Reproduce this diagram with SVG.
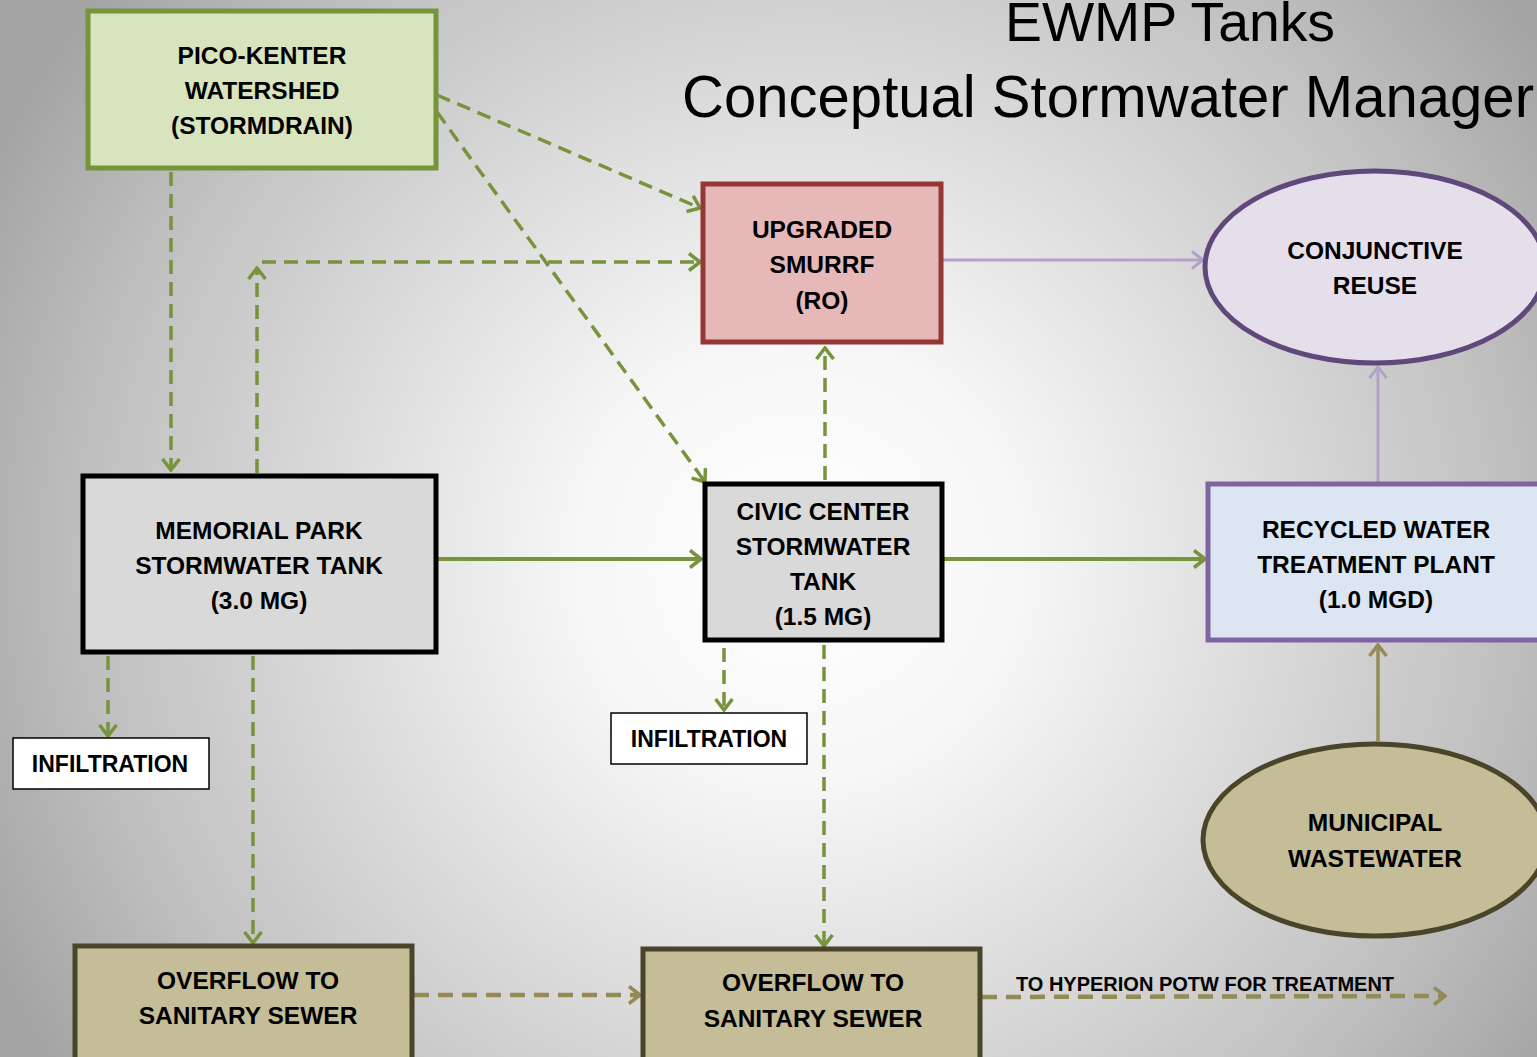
<svg xmlns="http://www.w3.org/2000/svg" width="1537" height="1057" viewBox="0 0 1537 1057">
<defs>
<radialGradient id="bg" gradientUnits="userSpaceOnUse" cx="800" cy="560" r="900">
<stop offset="0" stop-color="#FFFFFF"/>
<stop offset="0.25" stop-color="#F6F6F6"/>
<stop offset="0.75" stop-color="#C4C4C4"/>
<stop offset="1" stop-color="#A4A4A4"/>
</radialGradient>
<marker id="ag" viewBox="0 0 14 20" refX="12" refY="10" markerWidth="14" markerHeight="20" markerUnits="userSpaceOnUse" orient="auto"><path d="M1,1.5 L12,10 L1,18.5" fill="none" stroke="#77933C" stroke-width="3.5"/></marker>
<marker id="al" viewBox="0 0 14 20" refX="12" refY="10" markerWidth="14" markerHeight="20" markerUnits="userSpaceOnUse" orient="auto"><path d="M1,1.5 L12,10 L1,18.5" fill="none" stroke="#B3A2C7" stroke-width="3"/></marker>
<marker id="ao" viewBox="0 0 14 20" refX="12" refY="10" markerWidth="14" markerHeight="20" markerUnits="userSpaceOnUse" orient="auto"><path d="M1,1.5 L12,10 L1,18.5" fill="none" stroke="#948A54" stroke-width="3.5"/></marker>
</defs>
<style>
text{font-family:"Liberation Sans",Arial,sans-serif;font-weight:bold;font-size:24.5px;fill:#000;text-anchor:middle;dominant-baseline:central}
.title{font-family:"Liberation Sans",Arial,sans-serif;font-weight:normal;text-anchor:start;dominant-baseline:alphabetic}
.gd{fill:none;stroke:#77933C;stroke-width:3.5;stroke-dasharray:14 8}
.gs{fill:none;stroke:#77933C;stroke-width:4}
.ls{fill:none;stroke:#B3A2C7;stroke-width:3}
.os{fill:none;stroke:#948A54;stroke-width:3.5}
.od{fill:none;stroke:#948A54;stroke-width:4.5;stroke-dasharray:15 9}
</style>
<rect width="1537" height="1057" fill="url(#bg)"/>
<text class="title" x="1005" y="41" style="font-size:56px" textLength="330" lengthAdjust="spacingAndGlyphs">EWMP Tanks</text>
<text class="title" x="682" y="117" style="font-size:60px" textLength="852" lengthAdjust="spacingAndGlyphs">Conceptual Stormwater Manager</text>

<g id="connectors">
<path class="gd" d="M171,172 V470" marker-end="url(#ag)"/>
<path class="gd" d="M437,95 L700,208" marker-end="url(#ag)"/>
<path class="gd" d="M437,112 L705,482" marker-end="url(#ag)"/>
<path class="gd" d="M257,473 V268" marker-end="url(#ag)"/>
<path class="gd" d="M262,262 H700" marker-end="url(#ag)"/>
<path class="gd" d="M825,480 V348" marker-end="url(#ag)"/>
<path class="ls" d="M943,260 H1203" marker-end="url(#al)"/>
<path class="ls" d="M1378,482 V367" marker-end="url(#al)"/>
<path class="gs" d="M438,559 H701" marker-end="url(#ag)"/>
<path class="gs" d="M944,559 H1205" marker-end="url(#ag)"/>
<path class="os" d="M1378,741 V645" marker-end="url(#ao)"/>
<path class="gd" d="M108,656 V736" marker-end="url(#ag)"/>
<path class="gd" d="M253,656 V943" marker-end="url(#ag)"/>
<path class="gd" d="M724,648 V710" marker-end="url(#ag)"/>
<path class="gd" d="M824,645 V946" marker-end="url(#ag)"/>
<path class="od" d="M414,995 H640" marker-end="url(#ao)"/>
<path class="od" d="M982,997 L1445,996" marker-end="url(#ao)"/>
<text x="1205" y="984" style="font-size:20px">TO HYPERION POTW FOR TREATMENT</text>
</g>

<g id="pico-kenter">
<rect x="88" y="11" width="348" height="157" fill="#D7E4BD" stroke="#77933C" stroke-width="5"/>
<text x="262" y="55">PICO-KENTER</text><text x="262" y="90">WATERSHED</text><text x="262" y="125">(STORMDRAIN)</text>
</g>
<g id="smurrf">
<rect x="703" y="184" width="238" height="158" fill="#E6B9B8" stroke="#953735" stroke-width="5"/>
<text x="822" y="229">UPGRADED</text><text x="822" y="264">SMURRF</text><text x="822" y="300">(RO)</text>
</g>
<g id="conjunctive-reuse">
<ellipse cx="1375" cy="267" rx="170" ry="96" fill="#E5DFEC" stroke="#5F497A" stroke-width="5"/>
<text x="1375" y="250">CONJUNCTIVE</text><text x="1375" y="285">REUSE</text>
</g>
<g id="memorial-park">
<rect x="83" y="476" width="353" height="176" fill="#D9D9D9" stroke="#000" stroke-width="5"/>
<text x="259" y="530">MEMORIAL PARK</text><text x="259" y="565">STORMWATER TANK</text><text x="259" y="600">(3.0 MG)</text>
</g>
<g id="civic-center">
<rect x="705" y="484" width="237" height="156" fill="#D9D9D9" stroke="#000" stroke-width="5"/>
<text x="823" y="511">CIVIC CENTER</text><text x="823" y="546">STORMWATER</text><text x="823" y="581">TANK</text><text x="823" y="616">(1.5 MG)</text>
</g>
<g id="recycled-water">
<rect x="1208" y="484" width="335" height="156" fill="#DCE6F2" stroke="#8064A2" stroke-width="5"/>
<text x="1376" y="529">RECYCLED WATER</text><text x="1376" y="564">TREATMENT PLANT</text><text x="1376" y="599">(1.0 MGD)</text>
</g>
<g id="municipal-wastewater">
<ellipse cx="1375" cy="840" rx="172" ry="96" fill="#C4BD97" stroke="#4A452A" stroke-width="5"/>
<text x="1375" y="822">MUNICIPAL</text><text x="1375" y="858">WASTEWATER</text>
</g>
<g id="infiltration-1">
<rect x="13" y="738" width="196" height="51" fill="#FFFFFF" stroke="#000" stroke-width="1.5"/>
<text x="110" y="764" style="font-size:23px">INFILTRATION</text>
</g>
<g id="infiltration-2">
<rect x="611" y="713" width="196" height="51" fill="#FFFFFF" stroke="#000" stroke-width="1.5"/>
<text x="709" y="739" style="font-size:23px">INFILTRATION</text>
</g>
<g id="overflow-1">
<rect x="75" y="946" width="337" height="115" fill="#C4BD97" stroke="#4A452A" stroke-width="5"/>
<text x="248" y="980">OVERFLOW TO</text><text x="248" y="1015">SANITARY SEWER</text>
</g>
<g id="overflow-2">
<rect x="643" y="949" width="337" height="112" fill="#C4BD97" stroke="#4A452A" stroke-width="5"/>
<text x="813" y="982">OVERFLOW TO</text><text x="813" y="1018">SANITARY SEWER</text>
</g>
</svg>
